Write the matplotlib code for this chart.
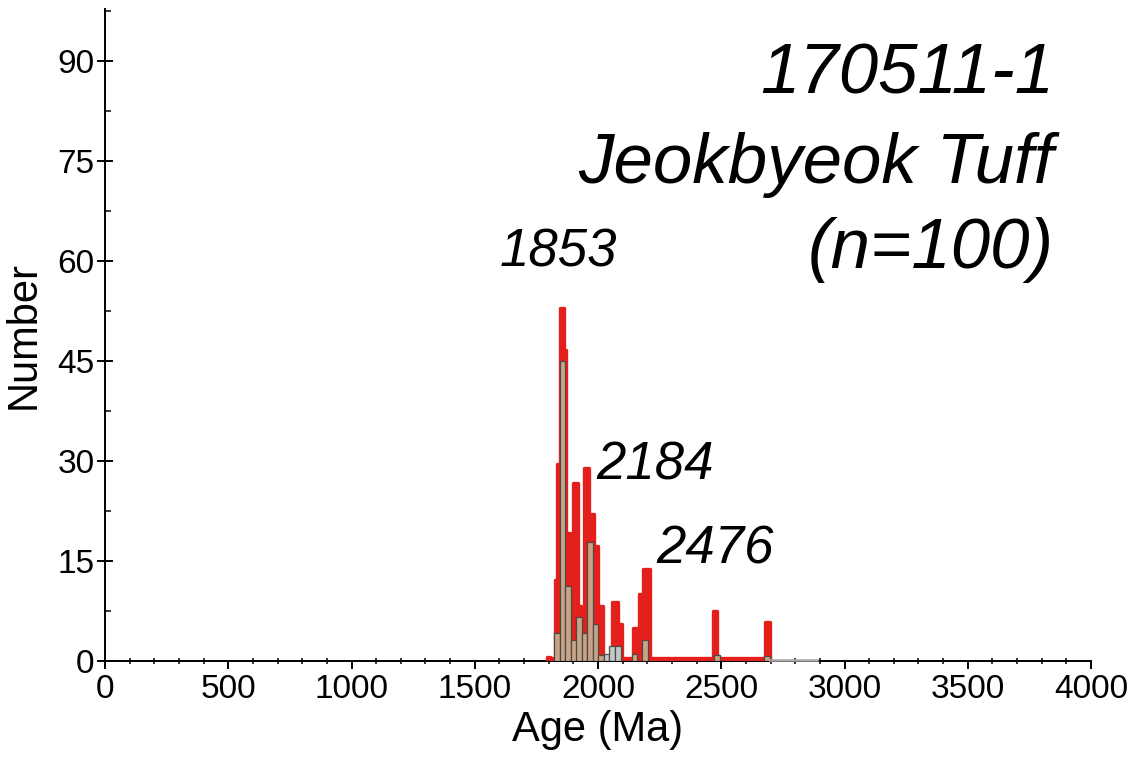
import matplotlib
matplotlib.use('Agg')
import matplotlib.pyplot as plt
from matplotlib.ticker import MultipleLocator

# ---------------- data ----------------
# histogram bars: left edge age (Ma), height, bar type
bin_width = 22.4
bar_left = [1822, 1845, 1868, 1891, 1912, 1935, 1956, 1979, 2001, 2024,
            2046, 2069, 2136, 2180, 2472, 2674]
bar_height = [4.25, 45.0, 11.25, 3.15, 6.55, 4.25, 17.8, 5.5, 0.9, 1.0,
              2.2, 2.2, 1.0, 3.2, 0.9, 0.8]
bar_type = ['a', 'a', 'a', 'a', 'a', 'a', 'a', 'a', 'a', 'b',
            'b', 'b', 'a', 'a', 'a', 'a']

# red probability curve (step edges in Ma and values)
red_edges = [1792, 1806, 1824, 1833, 1844, 1861, 1872, 1888, 1900, 1918,
             1931, 1944, 1965, 1982, 1998, 2019, 2058, 2082, 2098, 2144,
             2166, 2183, 2211, 2466, 2483, 2677, 2697]
red_vals = [0.6, 0.4, 12.2, 29.6, 53.0, 46.6, 19.2, 8.3, 26.7, 8.2,
            5.5, 29.0, 22.0, 17.3, 8.3, 0.4, 8.8, 5.6, 0.4, 5.0,
            10.0, 13.8, 0.4, 7.5, 0.4, 5.8]

# faint grey tail beyond the last grain
grey_ages = [2698, 2890]
grey_vals = [0.2, 0.2]

peak_labels = ['1853', '2184', '2476']
peak_label_x = [1600, 1993, 2237]
peak_label_y = [59.2, 27.3, 14.7]

title_lines = ['170511-1', 'Jeokbyeok Tuff', '(n=100)']
title_y = [85.2, 71.7, 58.9]
title_right = 3850

x_ticks = [0, 500, 1000, 1500, 2000, 2500, 3000, 3500, 4000]
y_ticks = [0, 15, 30, 45, 60, 75, 90]

# ---------------- figure ----------------
plt.rcParams['font.family'] = ['Liberation Sans', 'DejaVu Sans']
W, H = 1131, 763
fig = plt.figure(figsize=(W / 100, H / 100), dpi=100)
x0, x1 = 105, 1091
y0, y1 = 661, 9
ax = fig.add_axes([x0 / W, 1 - y0 / H, (x1 - x0) / W, (y0 - y1) / H])

red = '#e3201c'
ax.stairs(red_vals, red_edges, baseline=0, fill=True, color=red, zorder=2)
outline = ax.stairs(red_vals, red_edges, baseline=0, fill=False, color=red,
                    linewidth=2.4, zorder=2)
outline.set_joinstyle('round')
outline.set_capstyle('round')
ax.plot(grey_ages, grey_vals, color='#a8a8a8', lw=1.8, zorder=4, clip_on=False)

face = {'a': '#c8a385', 'b': '#c3cbc6'}
ax.bar(bar_left, bar_height, width=bin_width, align='edge',
       color=[face[t] for t in bar_type], edgecolor='#4a4a4a',
       linewidth=0.9, zorder=3)

ax.set_xlim(0, 4000)
ax.set_ylim(0, 97.8)
ax.set_xticks(x_ticks)
ax.set_yticks(y_ticks)
ax.xaxis.set_minor_locator(MultipleLocator(100))
ax.yaxis.set_minor_locator(MultipleLocator(7.5))

for s in ['top', 'right']:
    ax.spines[s].set_visible(False)
for s in ['left', 'bottom']:
    ax.spines[s].set_linewidth(1.4)
    ax.spines[s].set_zorder(1)

ax.tick_params(axis='x', which='major', direction='out', length=6, width=1.4,
               labelsize=24, pad=3)
ax.tick_params(axis='x', which='minor', direction='inout', length=4, width=1.1)
ax.tick_params(axis='y', which='major', direction='inout', length=11, width=1.4,
               labelsize=24, pad=2)
ax.tick_params(axis='y', which='minor', direction='in', length=4, width=1.1)

ax.set_xlabel('Age (Ma)', fontsize=30, labelpad=4)
ax.set_ylabel('Number', fontsize=30, labelpad=10)

for t, x, y in zip(peak_labels, peak_label_x, peak_label_y):
    ax.text(x, y, t, fontsize=38, style='italic', ha='left', va='baseline')

for t, y in zip(title_lines, title_y):
    ax.text(title_right, y, t, fontsize=51, style='italic', ha='right',
            va='baseline')

fig.savefig('out.png', dpi=100)
